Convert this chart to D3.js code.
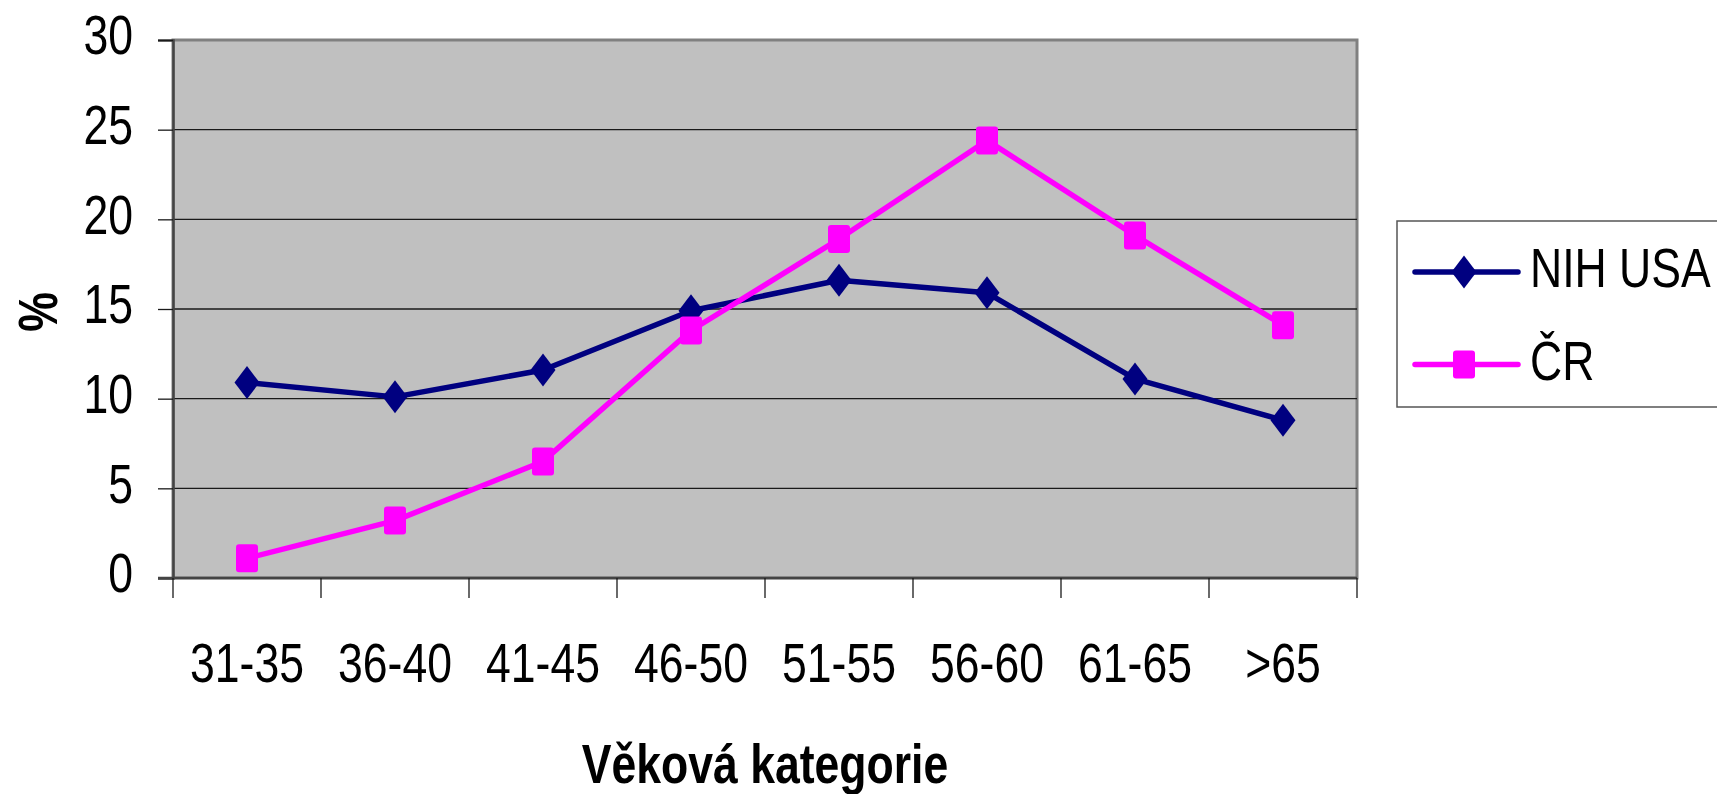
<!DOCTYPE html>
<html>
<head>
<meta charset="utf-8">
<script src="https://cdn.jsdelivr.net/npm/d3@7"></script>
<style>
  body { margin: 0; background: #fff; }
  text { font-family: "Liberation Sans", Arial, sans-serif; }
</style>
</head>
<body>
<div id="chart"></div>
<script>
// data
const categories = ['31-35', '36-40', '41-45', '46-50', '51-55', '56-60', '61-65', '>65'];
const nihUsa = [10.9, 10.1, 11.6, 14.9, 16.6, 15.9, 11.1, 8.8];
const cr = [1.1, 3.2, 6.5, 13.8, 18.9, 24.4, 19.1, 14.1];
const yTicks = [0, 5, 10, 15, 20, 25, 30];
const seriesNames = ['NIH USA', 'ČR'];

const width = 1717;
const height = 794;
const plotLeft = 173, plotRight = 1357, plotTop = 40, plotBottom = 578;
const fontSize = 55;
const sx = 0.81; // the original font is a narrow one, squeeze Liberation Sans

const svg = d3.select('#chart')
  .append('svg')
  .attr('width', width)
  .attr('height', height);

const x = d3.scaleBand().domain(categories).range([plotLeft, plotRight]);
const y = d3.scaleLinear().domain([0, 30]).range([plotBottom, plotTop]);

// plot area
svg.append('rect')
  .attr('x', plotLeft)
  .attr('y', plotTop)
  .attr('width', plotRight - plotLeft)
  .attr('height', plotBottom - plotTop)
  .attr('fill', '#c0c0c0')
  .attr('stroke', '#808080')
  .attr('stroke-width', 3);

// gridlines
svg.selectAll('.grid')
  .data(yTicks.filter(d => d > 0 && d < 30))
  .join('line')
  .attr('class', 'grid')
  .attr('x1', plotLeft)
  .attr('x2', plotRight)
  .attr('y1', d => y(d))
  .attr('y2', d => y(d))
  .attr('stroke', '#1a1a1a')
  .attr('stroke-width', 1.3);

// y axis
const yAxis = svg.append('g')
  .attr('transform', `translate(${plotLeft},0)`)
  .call(d3.axisLeft(y).tickValues(yTicks).tickSize(15));
yAxis.select('.domain').attr('stroke', '#444').attr('stroke-width', 2.5);
yAxis.selectAll('.tick line').attr('stroke', '#1a1a1a').attr('stroke-width', 1.3);
yAxis.selectAll('.tick text')
  .attr('x', -40 / sx)
  .attr('transform', `scale(${sx},1)`)
  .attr('font-size', fontSize)
  .attr('dy', '0.25em')
  .attr('fill', '#000')
  .style('font-family', '"Liberation Sans", Arial, sans-serif');

// x axis line + ticks at band edges
svg.append('line')
  .attr('x1', plotLeft - 15)
  .attr('x2', plotRight)
  .attr('y1', plotBottom)
  .attr('y2', plotBottom)
  .attr('stroke', '#444')
  .attr('stroke-width', 2.5);

const edges = categories.map(c => x(c)).concat([plotRight]);
svg.selectAll('.xtick')
  .data(edges)
  .join('line')
  .attr('class', 'xtick')
  .attr('x1', d => d)
  .attr('x2', d => d)
  .attr('y1', plotBottom)
  .attr('y2', plotBottom + 20)
  .attr('stroke', '#1a1a1a')
  .attr('stroke-width', 1.3);

svg.selectAll('.xlabel')
  .data(categories)
  .join('text')
  .attr('class', 'xlabel')
  .attr('transform', d => `translate(${x(d) + x.bandwidth() / 2},682) scale(${sx},1)`)
  .attr('text-anchor', 'middle')
  .attr('font-size', fontSize)
  .text(d => d);

// axis titles
svg.append('text')
  .attr('transform', `translate(${(plotLeft + plotRight) / 2},783) scale(${sx},1)`)
  .attr('text-anchor', 'middle')
  .attr('font-size', fontSize)
  .attr('font-weight', 'bold')
  .text('Věková kategorie');

svg.append('text')
  .attr('transform', `translate(57,312) rotate(-90) scale(${sx},1)`)
  .attr('text-anchor', 'middle')
  .attr('font-size', fontSize)
  .attr('font-weight', 'bold')
  .text('%');

// series
const line = d3.line()
  .x((d, i) => x(categories[i]) + x.bandwidth() / 2)
  .y(d => y(d));

const diamond = 'M0,-16.5L12.5,0L0,16.5L-12.5,0Z';

function drawMarker(g, type, color) {
  if (type === 'diamond') {
    g.append('path').attr('d', diamond).attr('fill', color);
  } else {
    g.append('rect')
      .attr('x', -11).attr('y', -14)
      .attr('width', 22).attr('height', 28)
      .attr('rx', 3)
      .attr('fill', color);
  }
}

const series = [
  { name: seriesNames[0], values: nihUsa, color: '#000080', marker: 'diamond' },
  { name: seriesNames[1], values: cr, color: '#ff00ff', marker: 'square' }
];

series.forEach(s => {
  svg.append('path')
    .datum(s.values)
    .attr('d', line)
    .attr('fill', 'none')
    .attr('stroke', s.color)
    .attr('stroke-width', 5.5)
    .attr('stroke-linejoin', 'round');

  s.values.forEach((v, i) => {
    const g = svg.append('g')
      .attr('transform', `translate(${x(categories[i]) + x.bandwidth() / 2},${y(v)})`);
    drawMarker(g, s.marker, s.color);
  });
});

// legend
const legend = svg.append('g');
legend.append('rect')
  .attr('x', 1397)
  .attr('y', 221)
  .attr('width', 330)
  .attr('height', 186)
  .attr('fill', '#fff')
  .attr('stroke', '#555')
  .attr('stroke-width', 1.5);

series.forEach((s, i) => {
  const ly = 272 + i * 92.5;
  legend.append('line')
    .attr('x1', 1415)
    .attr('x2', 1518)
    .attr('y1', ly)
    .attr('y2', ly)
    .attr('stroke', s.color)
    .attr('stroke-width', 5.5)
    .attr('stroke-linecap', 'round');
  const g = legend.append('g').attr('transform', `translate(1464,${ly})`);
  drawMarker(g, s.marker, s.color);
  legend.append('text')
    .attr('transform', `translate(1530,${ly + 15}) scale(${sx},1)`)
    .attr('font-size', fontSize)
    .text(s.name);
});
</script>
</body>
</html>
